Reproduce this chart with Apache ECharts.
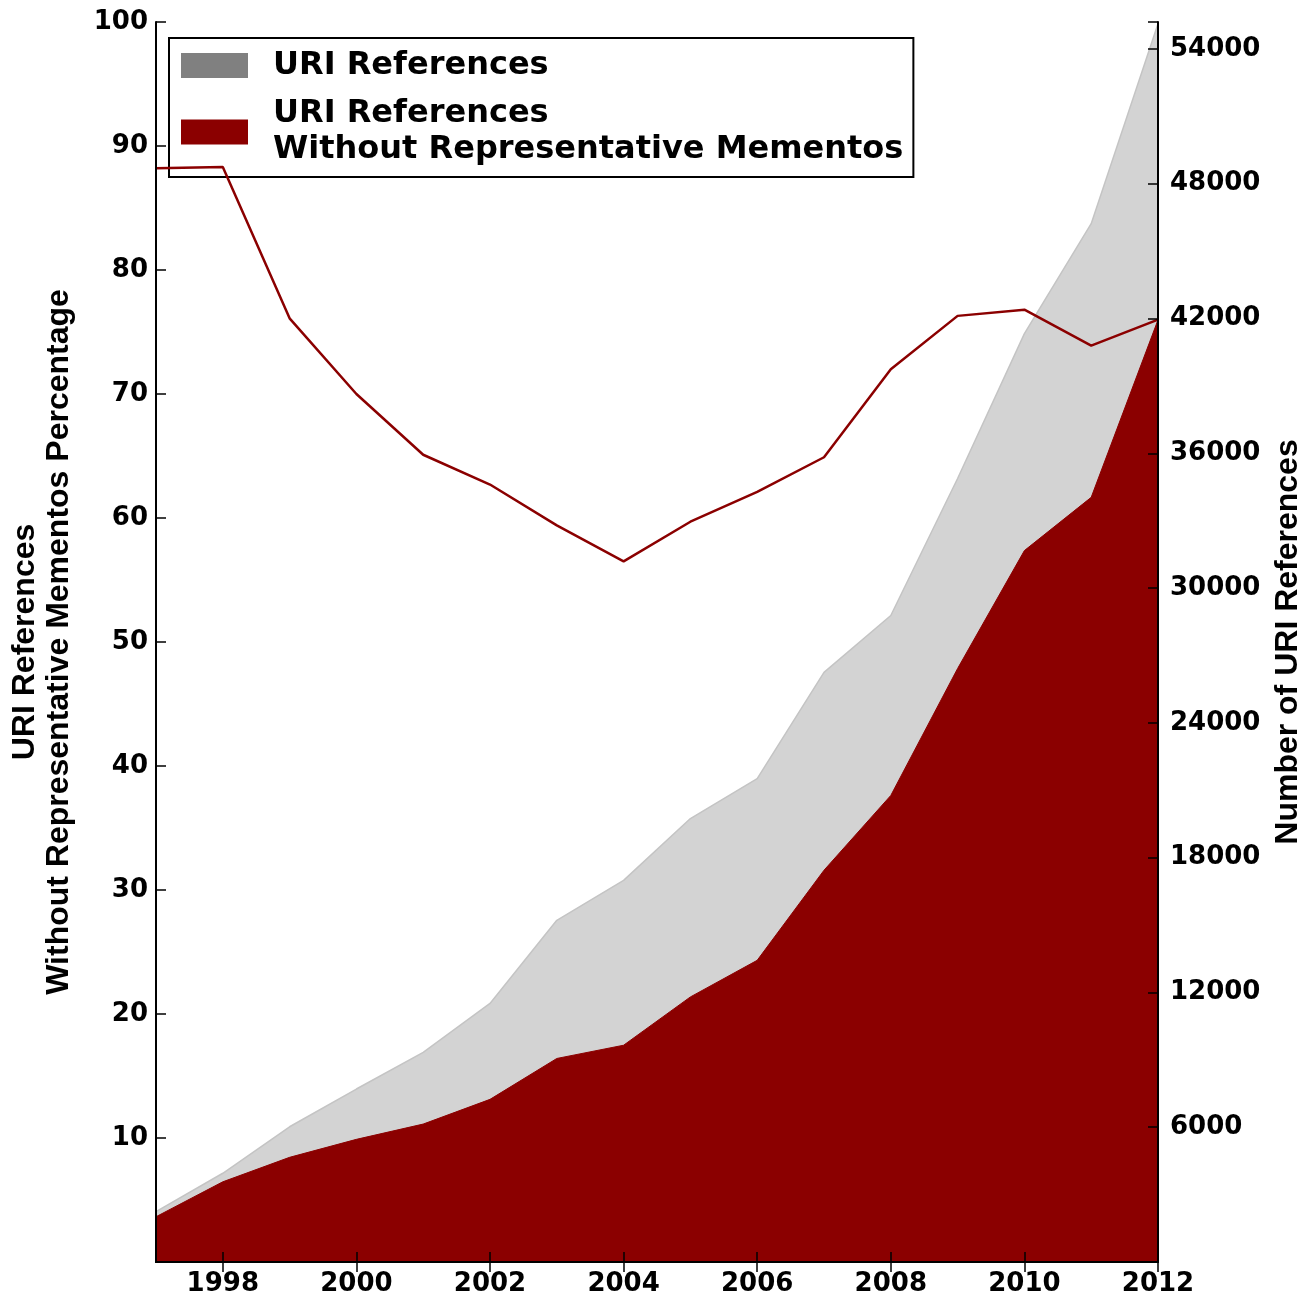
<!DOCTYPE html>
<html>
<head>
<meta charset="utf-8">
<script src="https://cdn.jsdelivr.net/npm/echarts@6/dist/echarts.min.js"></script>
<style>
html,body{margin:0;padding:0;background:#fff;}
#chart{width:1314px;height:1298px;}
</style>
</head>
<body>
<div id="chart"></div>
<script>
var years = ['1997','1998','1999','2000','2001','2002','2003','2004','2005','2006','2007','2008','2009','2010','2011','2012'];
var totalRefs = [2240, 3950, 6020, 7700, 9330, 11510, 15210, 16990, 19740, 21520, 26250, 28780, 34880, 41330, 46220, 55120];
var noMementoRefs = [2015, 3570, 4660, 5460, 6140, 7240, 9060, 9650, 11800, 13430, 17440, 20770, 26420, 31670, 34040, 41940];
var noMementoPercent = [88.2, 88.3, 76.1, 70.0, 65.1, 62.7, 59.4, 56.5, 59.7, 62.1, 64.9, 72.0, 76.3, 76.8, 73.9, 76.0];
var leftTicks = [10, 20, 30, 40, 50, 60, 70, 80, 90, 100];
var rightTicks = [6000, 12000, 18000, 24000, 30000, 36000, 42000, 48000, 54000];
var seriesNames = ['URI References', 'URI References\nWithout Representative Mementos'];
var leftTitle = 'URI References\nWithout Representative Mementos Percentage';
var rightTitle = 'Number of URI References';

var labelFont = {fontFamily:'DejaVu Sans', fontWeight:'bold', fontSize:26, color:'#000'};
var titleFont = {fontFamily:'Liberation Sans', fontWeight:'bold', fontSize:32, lineHeight:34, color:'#000', align:'center'};
var evenYear = function(i, v){ return Number(v) % 2 === 0; };
var spine = {show:true, lineStyle:{color:'#000', width:2}};
var tickStyle = {color:'#000', width:1.5};

var chart = echarts.init(document.getElementById('chart'), null, {renderer:'canvas'});
chart.setOption({
  animation:false,
  backgroundColor:'#fff',
  grid:{left:153, right:156, top:22, bottom:36, containLabel:false},
  legend:{
    data:[
      {name:seriesNames[0], itemStyle:{color:'#808080', borderWidth:0}},
      {name:seriesNames[1], itemStyle:{color:'#8b0000', borderWidth:0}}
    ],
    orient:'vertical', left:169, top:38, icon:'rect',
    itemWidth:67, itemHeight:25, itemGap:12.5,
    padding:[9.5, 10, 9, 12],
    borderColor:'#000', borderWidth:2, backgroundColor:'#fff',
    selectedMode:false,
    textStyle:{fontFamily:'DejaVu Sans', fontWeight:'bold', fontSize:32, lineHeight:36, color:'#000', padding:[0,0,0,20]}
  },
  xAxis:[
    {type:'category', data:years, boundaryGap:false, position:'bottom', z:10,
     axisLine:spine,
     axisTick:{show:true, inside:true, length:10, interval:evenYear, lineStyle:tickStyle},
     axisLabel:Object.assign({interval:evenYear, margin:9}, labelFont),
     splitLine:{show:false}},
    {type:'category', data:years, boundaryGap:false, position:'top', z:10,
     axisLine:spine,
     axisTick:{show:true, inside:true, length:10, interval:evenYear, lineStyle:tickStyle},
     axisLabel:{show:false}, splitLine:{show:false}}
  ],
  yAxis:[
    {type:'value', min:0, max:100, interval:10, position:'left', z:10,
     axisLine:spine,
     axisTick:{show:true, inside:true, length:10, lineStyle:tickStyle},
     axisLabel:Object.assign({margin:8, formatter:function(v){ return leftTicks.indexOf(v) >= 0 ? String(v) : ''; }}, labelFont),
     splitLine:{show:false},
     name:leftTitle, nameLocation:'middle', nameRotate:90, nameGap:80,
     nameTextStyle:titleFont},
    {type:'value', min:0, max:55200, interval:6000, position:'right', z:10,
     axisLine:spine,
     axisTick:{show:true, inside:true, length:10, lineStyle:tickStyle},
     axisLabel:Object.assign({margin:12, formatter:function(v){ return rightTicks.indexOf(v) >= 0 ? String(v) : ''; }}, labelFont),
     splitLine:{show:false},
     name:rightTitle, nameLocation:'middle', nameRotate:90, nameGap:112,
     nameTextStyle:titleFont}
  ],
  series:[
    {name:seriesNames[0], type:'line', xAxisIndex:0, yAxisIndex:1, data:totalRefs,
     symbol:'none', z:2,
     lineStyle:{color:'#c4c4c4', width:1.5},
     itemStyle:{color:'#c4c4c4'},
     areaStyle:{color:'#d3d3d3', opacity:1}},
    {name:seriesNames[1], type:'line', xAxisIndex:0, yAxisIndex:1, data:noMementoRefs,
     symbol:'none', z:3,
     lineStyle:{color:'#8b0000', width:1},
     itemStyle:{color:'#8b0000'},
     areaStyle:{color:'#8b0000', opacity:1}},
    {name:'Percentage', type:'line', xAxisIndex:0, yAxisIndex:0, data:noMementoPercent,
     symbol:'none', z:4,
     lineStyle:{color:'#8b0000', width:2.5},
     itemStyle:{color:'#8b0000'}}
  ]
});
</script>
</body>
</html>
